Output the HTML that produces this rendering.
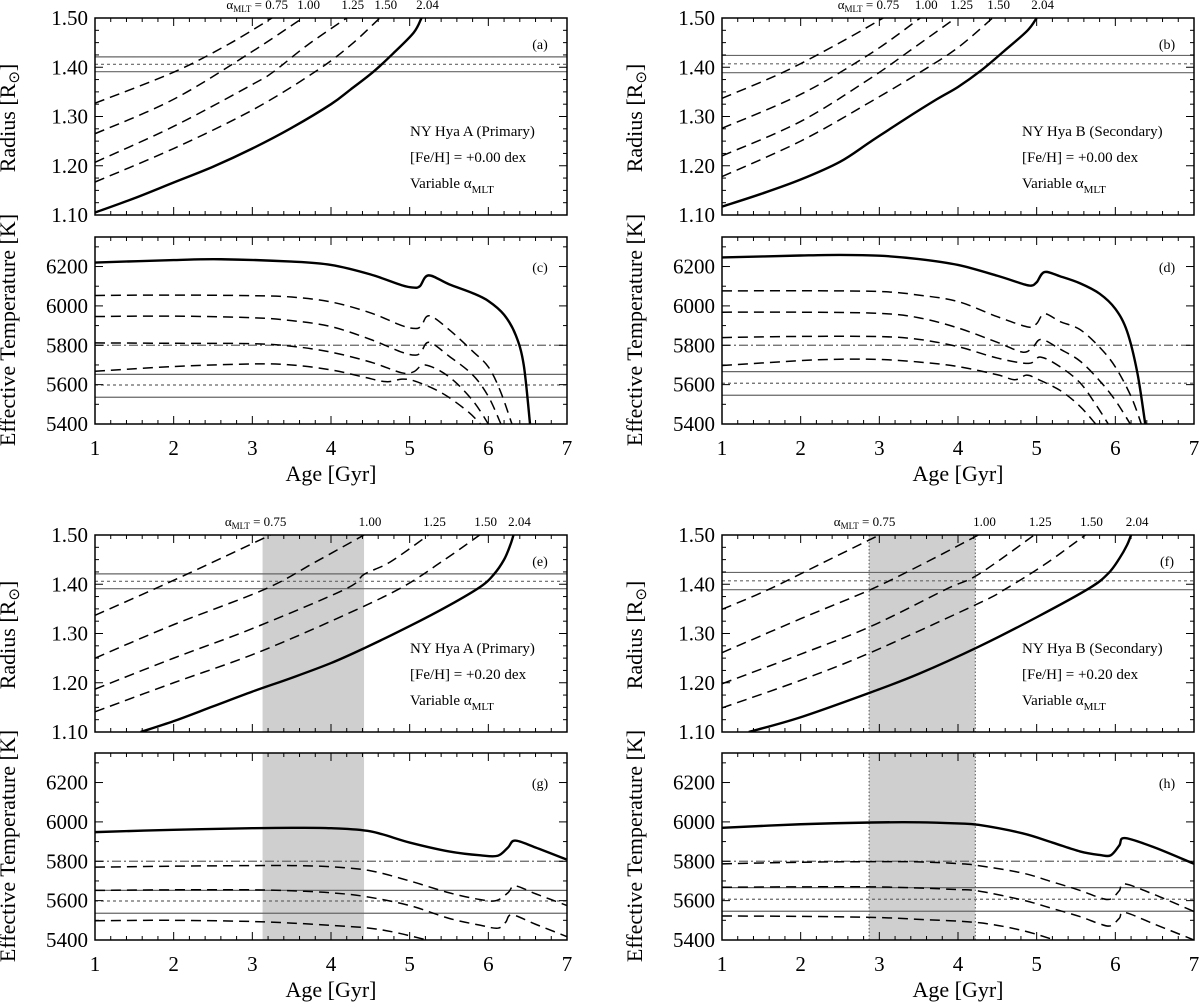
<!DOCTYPE html>
<html><head><meta charset="utf-8"><style>
html,body{margin:0;padding:0;background:#fff}
svg{display:block;font-family:"Liberation Serif",serif}
text{font-family:"Liberation Serif",serif}
</style></head><body>
<svg id="fig" width="1200" height="1005" viewBox="0 0 1200 1005" xmlns="http://www.w3.org/2000/svg"></svg>
<script>
// ---- data ----
const ageTicks=[1,2,3,4,5,6,7];
const radiusTicks=[1.10,1.20,1.30,1.40,1.50];
const teffTicks=[5400,5600,5800,6000,6200];
const alphaLabels=["0.75","1.00","1.25","1.50","2.04"];
// radius curves (age, R) : dashed alpha 0.75,1.00,1.25,1.50 then solid 2.04
const radA=[
 [[1,1.327],[2,1.39],[2.7,1.447],[3.25,1.50]],
 [[1,1.265],[2,1.335],[2.97,1.429],[3.64,1.50]],
 [[1,1.207],[2,1.28],[3,1.365],[3.27,1.391],[3.7,1.445],[4.2,1.50]],
 [[1,1.167],[2,1.235],[3,1.313],[3.8,1.391],[4.25,1.445],[4.62,1.50]],
 [[1,1.105],[1.5,1.134],[2,1.166],[2.5,1.198],[3,1.235],[3.5,1.277],[4,1.325],[4.25,1.355],[4.54,1.391],[4.79,1.428],[5.05,1.47],[5.15,1.50]]];
const radB=[
 [[1,1.337],[1.78,1.39],[2.5,1.45],[3.05,1.50]],
 [[1,1.276],[2,1.345],[2.89,1.428],[3.52,1.50]],
 [[1,1.22],[2,1.29],[2.89,1.378],[3.4,1.435],[3.97,1.50]],
 [[1,1.178],[2,1.25],[2.89,1.33],[3.52,1.39],[4.0,1.44],[4.44,1.50]],
 [[1,1.117],[1.5,1.143],[2,1.172],[2.5,1.208],[2.89,1.249],[3.31,1.293],[3.73,1.335],[4.0,1.36],[4.29,1.393],[4.58,1.432],[4.88,1.474],[5.0,1.50]]];
const radE=[
 [[1,1.337],[1.75,1.39],[2.5,1.445],[3.23,1.50]],
 [[1,1.25],[2,1.318],[3.16,1.39],[3.8,1.445],[4.42,1.50]],
 [[1,1.187],[2,1.25],[3,1.31],[4.18,1.39],[4.42,1.42],[4.75,1.445],[5.24,1.50]],
 [[1,1.141],[2,1.2],[3,1.257],[4,1.325],[4.86,1.39],[5.4,1.445],[5.89,1.50]],
 [[1.58,1.10],[2,1.122],[2.5,1.152],[3,1.182],[3.5,1.21],[4,1.24],[4.42,1.27],[5,1.315],[5.5,1.357],[5.9,1.395],[6.07,1.42],[6.2,1.45],[6.28,1.48],[6.32,1.50]]];
const radF=[
 [[1,1.349],[1.6,1.39],[2.3,1.445],[3.0,1.50]],
 [[1,1.261],[2,1.33],[2.9,1.39],[3.6,1.445],[4.26,1.50]],
 [[1,1.198],[2,1.258],[2.9,1.315],[3.85,1.39],[4.26,1.42],[4.97,1.50]],
 [[1,1.149],[2,1.205],[2.9,1.262],[4.26,1.361],[4.6,1.39],[5.1,1.44],[5.62,1.50]],
 [[1.34,1.10],[2,1.13],[2.9,1.181],[3.5,1.218],[4.26,1.273],[5,1.333],[5.67,1.392],[5.91,1.422],[6.05,1.452],[6.15,1.48],[6.2,1.50]]];
// Teff curves
const teffC=[
 [[1,6053],[2,6055],[3,6052],[3.5,6045],[4,6020],[4.5,5965],[4.9,5900],[5.08,5885],[5.15,5900],[5.25,5950],[5.5,5880],[5.8,5770],[6.0,5690],[6.15,5570],[6.3,5400]],
 [[1,5946],[2,5948],[3,5940],[3.5,5925],[4,5895],[4.5,5830],[4.9,5765],[5.08,5750],[5.15,5770],[5.25,5815],[5.5,5745],[5.8,5650],[6.0,5540],[6.16,5400]],
 [[1,5812],[2,5810],[3,5808],[3.5,5795],[4,5765],[4.5,5715],[4.9,5660],[5.05,5665],[5.2,5700],[5.5,5640],[5.8,5520],[6.0,5400]],
 [[1,5668],[2,5692],[3,5705],[3.5,5700],[4,5675],[4.4,5640],[4.7,5615],[4.9,5628],[5.05,5620],[5.3,5580],[5.5,5535],[5.75,5460],[5.9,5400]],
 [[1,6220],[2,6233],[2.6,6237],[3.5,6225],[4,6208],[4.5,6160],[4.9,6105],[5.05,6093],[5.13,6100],[5.24,6155],[5.5,6110],[5.8,6065],[6.0,6025],[6.2,5955],[6.35,5850],[6.45,5700],[6.53,5400]]];
const teffD=[
 [[1,6076],[2,6077],[3,6073],[3.5,6055],[4,6022],[4.5,5945],[4.9,5892],[5.0,5910],[5.1,5960],[5.3,5920],[5.55,5880],[5.8,5790],[6.0,5690],[6.2,5540],[6.33,5400]],
 [[1,5968],[2,5968],[3,5962],[3.5,5940],[4,5888],[4.5,5815],[4.82,5765],[4.95,5790],[5.06,5830],[5.3,5780],[5.55,5720],[5.8,5620],[6.0,5520],[6.19,5400]],
 [[1,5839],[2,5845],[3,5844],[3.5,5830],[4,5793],[4.5,5735],[4.9,5708],[5.05,5740],[5.3,5690],[5.55,5610],[5.75,5500],[5.91,5400]],
 [[1,5697],[2,5722],[2.5,5729],[3,5728],[3.5,5715],[4,5692],[4.5,5650],[4.72,5625],[4.87,5648],[5.0,5630],[5.3,5570],[5.55,5490],[5.75,5400]],
 [[1,6246],[2,6256],[2.5,6259],[3,6255],[3.5,6238],[4,6208],[4.5,6153],[4.82,6112],[4.93,6103],[5.0,6120],[5.1,6172],[5.3,6150],[5.55,6115],[5.8,6062],[6.0,5985],[6.15,5870],[6.28,5660],[6.38,5400]]];
const teffG=[
 [[1,5770],[2,5775],[3,5778],[3.5,5778],[4,5772],[4.5,5752],[5,5700],[5.5,5640],[5.9,5605],[6.1,5600],[6.25,5640],[6.34,5675],[6.6,5635],[7,5575]],
 [[1,5652],[2,5655],[3,5655],[3.5,5650],[4,5640],[4.45,5620],[5,5575],[5.5,5510],[5.9,5475],[6.12,5460],[6.22,5490],[6.3,5528],[6.6,5480],[7,5417]],
 [[1,5498],[2,5500],[3,5494],[3.5,5486],[4,5474],[4.45,5462],[4.8,5440],[5.22,5400]],
 [],
 [[1,5948],[2,5960],[3,5968],[3.5,5970],[4,5968],[4.5,5952],[5,5895],[5.5,5850],[5.9,5830],[6.12,5828],[6.25,5870],[6.34,5905],[6.6,5870],[7,5808]]];
const teffH=[
 [[1,5787],[2,5795],[2.9,5798],[3.5,5797],[4,5788],[4.26,5778],[4.82,5740],[5.2,5695],[5.55,5652],[5.8,5615],[5.94,5608],[6.05,5650],[6.12,5685],[6.5,5630],[7,5545]],
 [[1,5668],[2,5670],[2.9,5670],[3.5,5664],[4,5656],[4.26,5649],[4.82,5603],[5.2,5560],[5.55,5519],[5.8,5482],[5.94,5472],[6.05,5510],[6.12,5540],[6.5,5480],[7,5400]],
 [[1,5522],[2,5520],[2.9,5515],[3.5,5505],[4.26,5488],[4.8,5450],[5.23,5400]],
 [],
 [[1,5970],[2,5988],[2.9,5997],[3.5,5998],[4,5992],[4.26,5985],[4.82,5942],[5.2,5895],[5.55,5850],[5.8,5832],[5.94,5830],[6.05,5880],[6.12,5918],[6.5,5870],[7,5787]]];
// observed values: [upper, mean, lower]
const radObsA=[1.421,1.406,1.391];
const radObsB=[1.424,1.407,1.389];
const teffObsA=[5652,5598,5536];
const teffObsB=[5666,5607,5546];
const teffSun=5800;
// constrained age ranges
const shadeE=[3.13,4.42];
const shadeF=[2.87,4.22];

// ---- drawing ----
const NS="http://www.w3.org/2000/svg";
const svg=document.getElementById('fig');
function el(tag,attrs,parent){const e=document.createElementNS(NS,tag);for(const k in attrs)e.setAttribute(k,attrs[k]);(parent||svg).appendChild(e);return e;}
const FF='"Liberation Serif", serif';
const W=472,HR=197,HT=187;
function xs(x0){return a=>x0+(a-1)/6*W;}
function ysR(y0){return r=>y0+HR-(r-1.10)/0.40*HR;}
function ysT(y0){return t=>y0+HT-(t-5400)/950*HT;}
function crPath(pts,X,Y){
 const p=pts.map(d=>[X(d[0]),Y(d[1])]);
 if(p.length<2)return '';
 let s='M'+p[0][0].toFixed(2)+','+p[0][1].toFixed(2);
 for(let i=0;i<p.length-1;i++){
  const p0=p[i-1]||p[i],p1=p[i],p2=p[i+1],p3=p[i+2]||p2;
  const c1=[p1[0]+(p2[0]-p0[0])/6,p1[1]+(p2[1]-p0[1])/6];
  const c2=[p2[0]-(p3[0]-p1[0])/6,p2[1]-(p3[1]-p1[1])/6];
  s+='C'+c1[0].toFixed(2)+','+c1[1].toFixed(2)+' '+c2[0].toFixed(2)+','+c2[1].toFixed(2)+' '+p2[0].toFixed(2)+','+p2[1].toFixed(2);
 }
 return s;
}
function txt(attrs,parent){attrs['font-family']=FF;return el('text',attrs,parent);}
let clipId=0;
function panel(opt){
 const {x0,y0,kind,curves,obs,shade,dottedShade,letter,ann,alphaY,showX,yTitle}=opt;
 const H=kind==='R'?HR:HT;
 const X=xs(x0),Y=kind==='R'?ysR(y0):ysT(y0);
 const g=el('g',{});
 
 
 const cid='clip'+(clipId++);
 const cp=el('clipPath',{id:cid},g);el('rect',{x:x0,y:y0,width:W,height:H},cp);
 const inner=el('g',{'clip-path':'url(#'+cid+')'},g);
 if(shade){
  const r=el('rect',{x:X(shade[0]),y:y0,width:X(shade[1])-X(shade[0]),height:H,fill:'#cfcfcf'},inner);
  
  
  if(dottedShade){
   [shade[0],shade[1]].forEach(a=>{el('line',{x1:X(a),x2:X(a),y1:y0,y2:y0+H,stroke:'#555','stroke-width':1,'stroke-dasharray':'1.5,2'},inner);});
  }
 }
 if(kind==='T'){
  const l=el('line',{x1:x0,x2:x0+W,y1:Y(teffSun),y2:Y(teffSun),stroke:'#666','stroke-width':1.2,'stroke-dasharray':'9,3,2,3'},inner);
  
  
 }
 obs.forEach((v,i)=>{
  const l=el('line',{x1:x0,x2:x0+W,y1:Y(v),y2:Y(v),stroke:'#666','stroke-width':1.2},inner);
  if(i===1)l.setAttribute('stroke-dasharray','3,3');
  
  
 });
 curves.forEach((c,i)=>{
  if(!c.length)return;
  const solid=i===4;
  const p=el('path',{d:crPath(c,X,Y),fill:'none',stroke:'#000','stroke-width':solid?2.4:1.5},inner);
  if(!solid)p.setAttribute('stroke-dasharray','10,6');
  
  
 });
 el('rect',{x:x0,y:y0,width:W,height:H,fill:'none',stroke:'#000','stroke-width':1.5},g);
 for(let a=1;a<=7.001;a+=0.2){
  const xv=X(a);const major=Math.abs(a-Math.round(a))<0.01;const L=major?8:4;
  el('line',{x1:xv,x2:xv,y1:y0,y2:y0+L,stroke:'#000','stroke-width':1},g);
  el('line',{x1:xv,x2:xv,y1:y0+H,y2:y0+H-L,stroke:'#000','stroke-width':1},g);
 }
 if(kind==='R'){
  for(let k=0;k<=16;k++){const r=1.10+k*0.025;const yv=Y(r);const L=(k%4===0)?8:4;
   el('line',{x1:x0,x2:x0+L,y1:yv,y2:yv,stroke:'#000','stroke-width':1},g);
   el('line',{x1:x0+W,x2:x0+W-L,y1:yv,y2:yv,stroke:'#000','stroke-width':1},g);}
  radiusTicks.forEach(r=>{const t=txt({x:x0-7,y:Y(r)+7,'text-anchor':'end','font-size':21},g);t.textContent=r.toFixed(2);
   });
 }else{
  for(let t=5400;t<=6300;t+=100){const yv=Y(t);const L=(t%200===0)?8:4;
   el('line',{x1:x0,x2:x0+L,y1:yv,y2:yv,stroke:'#000','stroke-width':1},g);
   el('line',{x1:x0+W,x2:x0+W-L,y1:yv,y2:yv,stroke:'#000','stroke-width':1},g);}
  teffTicks.forEach(v=>{const t=txt({x:x0-7,y:Y(v)+7,'text-anchor':'end','font-size':21},g);t.textContent=v;
   });
 }
 const lt=txt({x:x0+445,y:y0+(kind==='R'?31:35),'text-anchor':'middle','font-size':14},g);lt.textContent='('+letter+')';
 
 if(ann){
  ann.lines.forEach((s,i)=>{const t=txt({x:x0+ann.dx,y:y0+118+i*26,'font-size':15},g);
   if(i===2){t.textContent='Variable \u03B1';const ts=el('tspan',{'font-size':11,dy:5},t);ts.textContent='MLT';}
   else t.textContent=s;
   });
 }
 if(alphaY!==undefined){
  curves.forEach((c,i)=>{
   if(!c.length)return;
   let end=c[c.length-1][0];
   const t=txt({y:alphaY,'font-size':13},g);
   if(i===0){t.setAttribute('x',X(end)+16);t.setAttribute('text-anchor','end');
     t.textContent='\u03B1';const s=el('tspan',{'font-size':9,dy:3},t);s.textContent='MLT';
     const s2=el('tspan',{dy:-3},t);s2.textContent=' = '+alphaLabels[0];}
   else{t.setAttribute('x',X(end)+6);t.setAttribute('text-anchor','middle');t.textContent=alphaLabels[i];}
   
  });
 }
 if(showX){
  ageTicks.forEach(a=>{const t=txt({x:X(a),y:y0+H+31,'text-anchor':'middle','font-size':21},g);t.textContent=a;
   });
  const t=txt({x:x0+W/2,y:y0+H+57,'text-anchor':'middle','font-size':22},g);t.textContent='Age [Gyr]';
  
 }
 if(yTitle){
  const cx=x0-80,cy=y0+yTitle.cy;
  const t=txt({x:cx,y:cy,'text-anchor':'middle','font-size':22,transform:'rotate(-90 '+cx+' '+cy+')'},g);
  if(kind==='R'){t.textContent='Radius [R';const s=el('tspan',{'font-size':15,dy:4},t);s.textContent='\u2299';const s2=el('tspan',{dy:-4},t);s2.textContent=']';}
  else t.textContent='Effective Temperature [K]';
  
 }
}
const annA=(fe)=>({dx:315,lines:['NY Hya A (Primary)','[Fe/H] = '+fe+' dex','Variable']});
const annB=(fe)=>({dx:300,lines:['NY Hya B (Secondary)','[Fe/H] = '+fe+' dex','Variable']});
const L=95,R=722;
panel({x0:L,y0:18,kind:'R',curves:radA,obs:radObsA,letter:'a',ann:annA('+0.00'),alphaY:9,yTitle:{cy:100}});
panel({x0:L,y0:237,kind:'T',curves:teffC,obs:teffObsA,letter:'c',showX:true,yTitle:{cy:93}});
panel({x0:R,y0:18,kind:'R',curves:radB,obs:radObsB,letter:'b',ann:annB('+0.00'),alphaY:9,yTitle:{cy:100}});
panel({x0:R,y0:237,kind:'T',curves:teffD,obs:teffObsB,letter:'d',showX:true,yTitle:{cy:93}});
panel({x0:L,y0:535,kind:'R',curves:radE,obs:radObsA,letter:'e',ann:annA('+0.20'),alphaY:526,shade:shadeE,yTitle:{cy:100}});
panel({x0:L,y0:753,kind:'T',curves:teffG,obs:teffObsA,letter:'g',showX:true,shade:shadeE,yTitle:{cy:93}});
panel({x0:R,y0:535,kind:'R',curves:radF,obs:radObsB,letter:'f',ann:annB('+0.20'),alphaY:526,shade:shadeF,dottedShade:true,yTitle:{cy:100}});
panel({x0:R,y0:753,kind:'T',curves:teffH,obs:teffObsB,letter:'h',showX:true,shade:shadeF,dottedShade:true,yTitle:{cy:93}});
</script>
</body></html>
